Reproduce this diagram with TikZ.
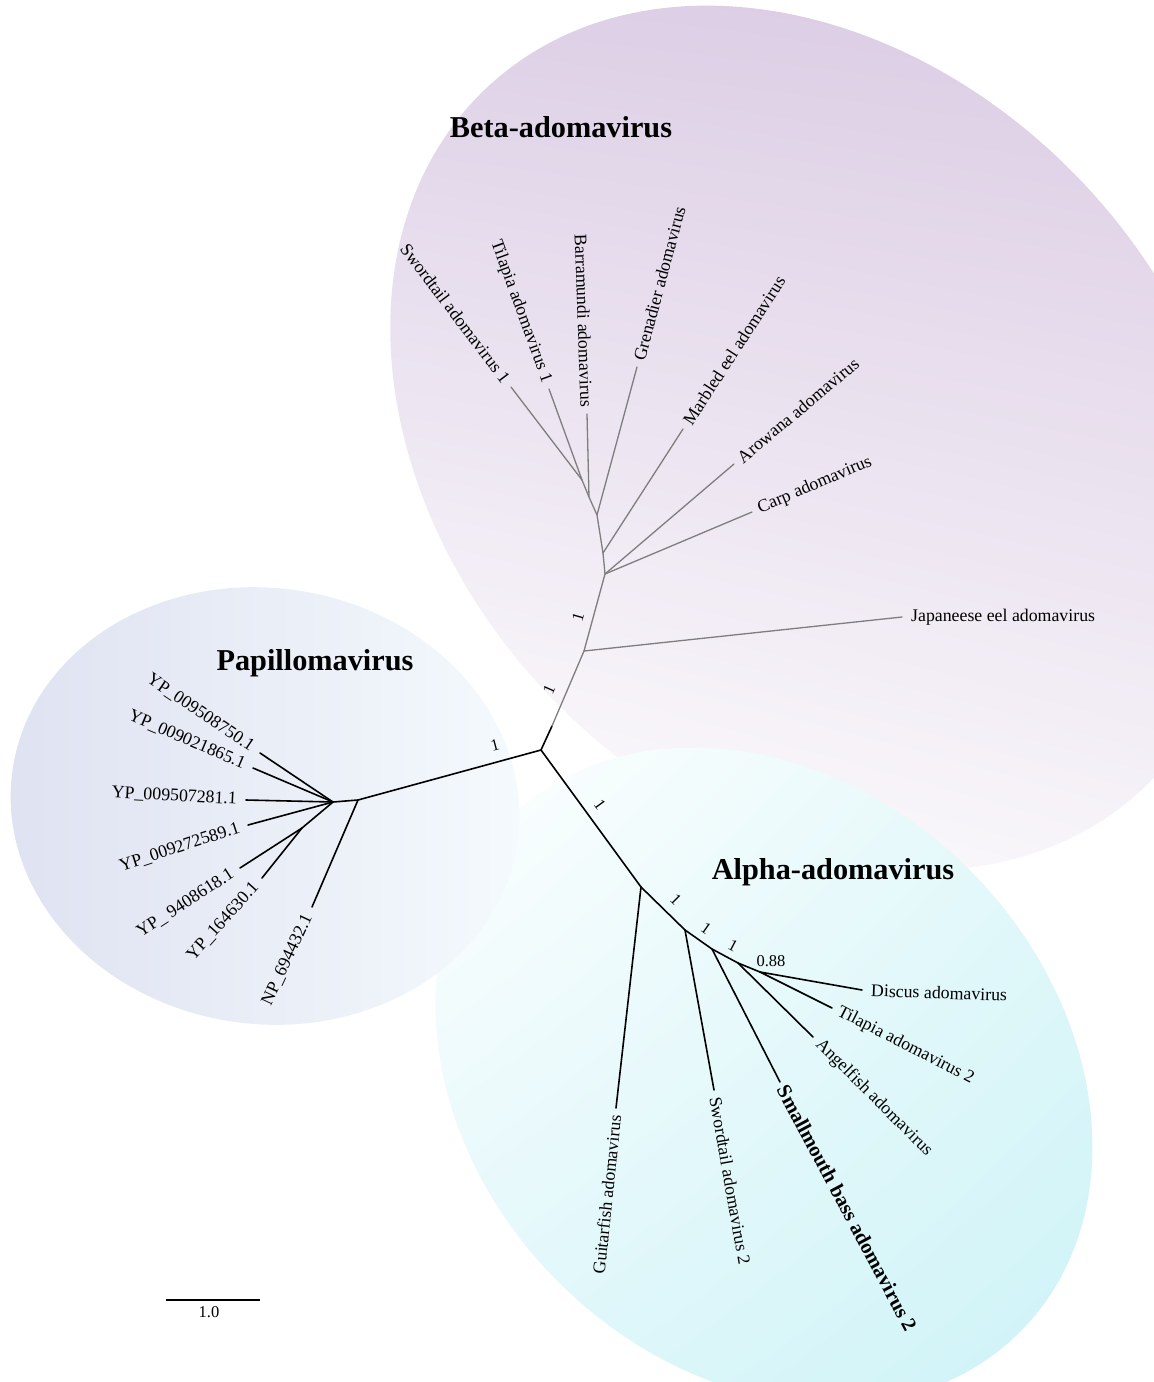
\documentclass[tikz,border=0pt]{standalone}
\usepackage{fontspec}
\setmainfont{Liberation Serif}
\usetikzlibrary{shadings}
\definecolor{betaA}{HTML}{DED1E7}
\definecolor{betaB}{HTML}{DBCBE3}
\definecolor{betaC}{HTML}{F7F4F9}
\definecolor{papL}{HTML}{DFE2F1}
\definecolor{papR}{HTML}{F4FAFD}
\definecolor{alUR}{HTML}{E3F8FA}
\definecolor{alLL}{HTML}{E0F7FA}
\definecolor{alLR}{HTML}{CDF3F7}
\definecolor{branchgray}{HTML}{7E7E7E}
\begin{document}
\begin{tikzpicture}[x=1pt,y=-1pt,
  br/.style={line width=1.6pt, black, line cap=round},
  gbr/.style={line width=1.3pt, branchgray, line cap=round},
  leaf/.style={font=\fontsize{17.8}{20}\selectfont, inner sep=9pt},
  bs/.style={font=\fontsize{16.5}{18}\selectfont, inner sep=0pt},
  cladetitle/.style={font=\fontsize{30.3}{34}\selectfont\bfseries, inner sep=0pt, anchor=base}]

\useasboundingbox (0,0) rectangle (1154,1382);
\fill[white] (0,0) rectangle (1154,1382);

% ---------- backgrounds ----------
\begin{scope}
\clip[rotate around={-47:(815,438)}] (815,438) ellipse (480 and 370);
\shade[upper left=betaA, upper right=betaB, lower left=white, lower right=betaC] (370,5) rectangle (1160,870);
\end{scope}
\begin{scope}
\clip[rotate around={-45:(764,1076)}] (764,1076) ellipse (362 and 291);
\shade[upper left=white, upper right=alUR, lower left=alLL, lower right=alLR] (430,742) rectangle (1098,1410);
\end{scope}
\begin{scope}
\clip[rotate around={-8:(265,806)}] (265,806) ellipse (255 and 218);
\shade[left color=papL, right color=papR] (8,585) rectangle (522,1030);
\end{scope}

% ---------- titles ----------
\node[cladetitle] (tBeta) at (561,137) {Beta-adomavirus};
\node[cladetitle] (tPap) at (315,670) {Papillomavirus};
\node[cladetitle] (tAlpha) at (833,879) {Alpha-adomavirus};

% ---------- internal nodes ----------
\coordinate (R) at (541,750);
\coordinate (Rb) at (552,726);
\coordinate (B2) at (584,651);
\coordinate (B3) at (605,574);
\coordinate (B4) at (603,553);
\coordinate (B5) at (597,515);
\coordinate (B7) at (589,497);
\coordinate (B6) at (582,480);
\coordinate (A1) at (641,887);
\coordinate (A2) at (685,930);
\coordinate (A3) at (712,949);
\coordinate (A4) at (738,963);
\coordinate (A5) at (760,972);
\coordinate (P1) at (358,800);
\coordinate (P0) at (333,802);
\coordinate (Pb) at (302,828);

% ---------- leaf ends ----------
\coordinate (lSw1) at (511,387);
\coordinate (lTi1) at (549,389);
\coordinate (lBar) at (587,414);
\coordinate (lGre) at (637,367);
\coordinate (lMar) at (683,429);
\coordinate (lAro) at (734,464);
\coordinate (lCar) at (752,512);
\coordinate (lJap) at (902,617);
\coordinate (lGui) at (616,1108);
\coordinate (lSw2) at (714,1090);
\coordinate (lSmb) at (780,1082);
\coordinate (lAng) at (813,1037);
\coordinate (lTi2) at (832,1008);
\coordinate (lDis) at (862,990);
\coordinate (l750) at (260,753);
\coordinate (l865) at (253,768);
\coordinate (l281) at (246,800);
\coordinate (l589) at (248,825);
\coordinate (l618) at (240,868);
\coordinate (l630) at (262,878);
\coordinate (lNP) at (312,907);

% ---------- branches ----------
\draw[br] (R) -- (Rb);
\draw[gbr] (Rb) -- (B2) -- (B3) -- (B4) -- (B5) -- (B7) -- (B6);
\draw[gbr] (B6) -- (lSw1);
\draw[gbr] (B6) -- (lTi1);
\draw[gbr] (B7) -- (lBar);
\draw[gbr] (B5) -- (lGre);
\draw[gbr] (B4) -- (lMar);
\draw[gbr] (B3) -- (lAro);
\draw[gbr] (B3) -- (lCar);
\draw[gbr] (B2) -- (lJap);

\draw[br] (R) -- (A1) -- (A2) -- (A3) -- (A4) -- (A5);
\draw[br] (A1) -- (lGui);
\draw[br] (A2) -- (lSw2);
\draw[br] (A3) -- (lSmb);
\draw[br] (A4) -- (lAng);
\draw[br] (A5) -- (lTi2);
\draw[br] (A5) -- (lDis);

\draw[br] (R) -- (P1) -- (P0);
\draw[br] (P1) -- (lNP);
\draw[br] (P0) -- (l750);
\draw[br] (P0) -- (l865);
\draw[br] (P0) -- (l281);
\draw[br] (P0) -- (l589);
\draw[br] (P0) -- (Pb);
\draw[br] (Pb) -- (l618);
\draw[br] (Pb) -- (l630);

% ---------- leaf labels ----------
\node[leaf, anchor=east, rotate=-53, inner sep=7pt] (nSw1) at (lSw1) {Swordtail adomavirus 1};
\node[leaf, anchor=east, rotate=-70, inner sep=7pt] (nTi1) at (lTi1) {Tilapia adomavirus 1};
\node[leaf, anchor=east, rotate=-88, inner sep=7pt] (nBar) at (lBar) {Barramundi adomavirus};
\node[leaf, anchor=west, rotate=75, inner sep=7pt] (nGre) at (lGre) {Grenadier adomavirus};
\node[leaf, anchor=west, rotate=57, inner sep=7pt] (nMar) at (lMar) {Marbled eel adomavirus};
\node[leaf, anchor=west, rotate=40, inner sep=7pt] (nAro) at (lAro) {Arowana adomavirus};
\node[leaf, anchor=west, rotate=23, inner sep=7pt] (nCar) at (lCar) {Carp adomavirus};
\node[leaf, anchor=west] (nJap) at (lJap) {Japaneese eel adomavirus};

\node[leaf, anchor=east, rotate=84, inner sep=7pt] (nGui) at (lGui) {Guitarfish adomavirus};
\node[leaf, anchor=west, rotate=-80, inner sep=7pt] (nSw2) at (lSw2) {Swordtail adomavirus 2};
\node[leaf, anchor=west, rotate=-62, font=\fontsize{20.6}{23}\selectfont\bfseries, inner sep=5pt] (nSmb) at (lSmb) {Smallmouth bass adomavirus 2};
\node[leaf, anchor=west, rotate=-45, inner sep=7pt] (nAng) at (lAng) {Angelfish adomavirus};
\node[leaf, anchor=west, rotate=-27, inner sep=7pt] (nTi2) at (lTi2) {Tilapia adomavirus 2};
\node[leaf, anchor=west, rotate=-2] (nDis) at (lDis) {Discus adomavirus};

\node[leaf, anchor=east, rotate=-34] (n750) at (l750) {YP\_009508750.1};
\node[leaf, anchor=east, rotate=-23] (n865) at (l865) {YP\_009021865.1};
\node[leaf, anchor=east, rotate=-3] (n281) at (l281) {YP\_009507281.1};
\node[leaf, anchor=east, rotate=18] (n589) at (l589) {YP\_009272589.1};
\node[leaf, anchor=east, rotate=33] (n618) at (l618) {YP\_ 9408618.1};
\node[leaf, anchor=east, rotate=48] (n630) at (l630) {YP\_164630.1};
\node[leaf, anchor=east, rotate=65] (nNP) at (lNP) {NP\_694432.1};

% ---------- support values ----------
\node[bs, rotate=15] (s1) at (495,745) {1};
\node[bs, rotate=66] (s2) at (549,690) {1};
\node[bs, rotate=74] (s3) at (578,617) {1};
\node[bs, rotate=-54] (s4) at (600,805) {1};
\node[bs, rotate=-45] (s5) at (676,900) {1};
\node[bs, rotate=-35] (s6) at (706,928) {1};
\node[bs, rotate=-28] (s7) at (733,946) {1};
\node[bs] (s8) at (771,961) {0.88};

% ---------- scale bar ----------
\coordinate (sbL) at (166,1300);
\coordinate (sbR) at (260,1300);
\draw[line width=2pt] (sbL) -- (sbR);
\node[bs, anchor=north] (sbT) at (209,1306) {1.0};
\end{tikzpicture}
\end{document}
